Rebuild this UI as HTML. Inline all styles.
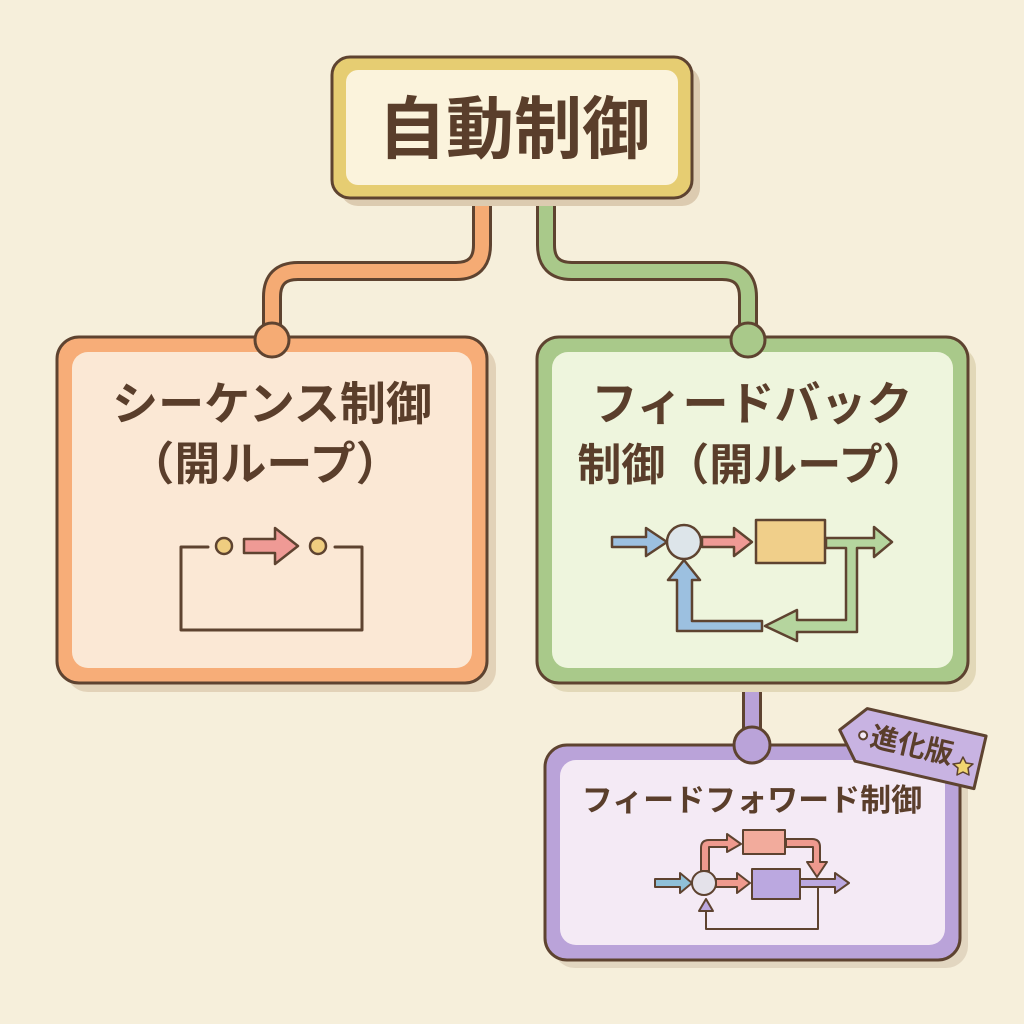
<!DOCTYPE html>
<html><head><meta charset="utf-8"><style>
html,body{margin:0;padding:0;background:#f6efdb;}
svg{display:block;}
text{font-family:"Liberation Sans","Noto Sans CJK JP",sans-serif;font-weight:bold;fill:#5a3e2b;}
</style></head><body>
<svg width="1024" height="1024" viewBox="0 0 1024 1024">
<rect width="1024" height="1024" fill="#f6efdb"/>
<g stroke="#5e4330" stroke-linejoin="round" stroke-linecap="round">
<path d="M482 196 V245 Q482 271 456 271 H298 Q272 271 272 297 V330" fill="none" stroke="#5e4330" stroke-width="20"/>
<path d="M482 196 V245 Q482 271 456 271 H298 Q272 271 272 297 V330" fill="none" stroke="#f5ab74" stroke-width="14"/>
<path d="M546 196 V245 Q546 271 572 271 H722 Q748 271 748 297 V330" fill="none" stroke="#5e4330" stroke-width="20"/>
<path d="M546 196 V245 Q546 271 572 271 H722 Q748 271 748 297 V330" fill="none" stroke="#a9c98a" stroke-width="14"/>
<path d="M752 680 V735" fill="none" stroke="#5e4330" stroke-width="20"/>
<path d="M752 680 V735" fill="none" stroke="#b9a2d8" stroke-width="14"/>

<rect x="340" y="66" width="360" height="140" rx="18" fill="#dccbb0" stroke="none"/>
<rect x="332" y="57" width="360" height="141" rx="18" fill="#e6cd72" stroke-width="3"/>
<rect x="346" y="70" width="332" height="115" rx="12" fill="#fbf3dc" stroke="none"/>

<rect x="66" y="346" width="430" height="346" rx="22" fill="#e2d2b8" stroke="none"/>
<rect x="57" y="337" width="430" height="346" rx="22" fill="#f7ad78" stroke-width="3"/>
<rect x="72" y="352" width="400" height="316" rx="16" fill="#fbe8d5" stroke="none"/>
<circle cx="272" cy="340" r="17" fill="#f5ab74" stroke-width="3"/>

<rect x="546" y="346" width="430" height="346" rx="22" fill="#e2d8b8" stroke="none"/>
<rect x="537" y="337" width="431" height="346" rx="22" fill="#a9c98a" stroke-width="3"/>
<rect x="552" y="352" width="401" height="316" rx="16" fill="#eef5dd" stroke="none"/>
<circle cx="748" cy="340" r="17" fill="#a9c98a" stroke-width="3"/>

<rect x="553" y="753" width="415" height="215" rx="22" fill="#e2d6c0" stroke="none"/>
<rect x="545" y="745" width="415" height="215" rx="22" fill="#baa3d9" stroke-width="3"/>
<rect x="560" y="760" width="385" height="185" rx="16" fill="#f4eaf5" stroke="none"/>
<circle cx="752" cy="745" r="18" fill="#baa3d9" stroke-width="3"/>

<g transform="rotate(13 905 745)">
<path d="M838 745 L860 718 H982 V772 H860 Z" fill="#c8b3e2" stroke-width="3"/>
<circle cx="862" cy="745" r="4" fill="#f4eaf5" stroke-width="2"/>
</g>
<path d="M963 757 l3 6 7 1 -5 4 1 7 -6 -3 -6 3 1 -7 -5 -4 7 -1z" fill="#f2d670" stroke-width="1.5"/>

<path d="M208 547 H181 V630 H362 V547 H335" fill="none" stroke-width="3"/>
<circle cx="224" cy="546" r="8" fill="#efcd80" stroke-width="2.5"/>
<circle cx="318" cy="546" r="8" fill="#efcd80" stroke-width="2.5"/>
<path d="M244 539 H275 V528 L298 546 L275 564 V553 H244 Z" fill="#ef9a95" stroke-width="2.5"/>

<path d="M612 537 H646 V528 L667 542 L646 556 V547 H612 Z" fill="#9cc0e0" stroke-width="2.5"/>
<circle cx="684" cy="542" r="17" fill="#dde5ea" stroke-width="2.5"/>
<path d="M702 537 H734 V528 L752 542 L734 556 V547 H702 Z" fill="#ef9a95" stroke-width="2.5"/>
<rect x="756" y="520" width="69" height="43" fill="#f0cf8a" stroke-width="2.5"/>
<path d="M826 538 H874 V527 L892 542 L874 557 V548 H857 V632 H797 V641 L765 626 L797 610 V620 H846 V548 H826 Z" fill="#b5d59e" stroke-width="2.5"/>
<path d="M762 621 H692 V580 H700 L684 560 L668 580 H677 V631 H762 Z" fill="#9cc0e0" stroke-width="2.5"/>

<path d="M655 879 H680 V873 L692 883 L680 893 V887 H655 Z" fill="#8fc0d8" stroke-width="2"/>
<circle cx="704" cy="883" r="12" fill="#e4e2ea" stroke-width="2"/>
<path d="M716 879 H737 V873 L750 883 L737 893 V887 H716 Z" fill="#ef9a8e" stroke-width="2"/>
<rect x="752" y="869" width="48" height="30" fill="#bba8e0" stroke-width="2"/>
<path d="M800 879 H835 V873 L849 883 L835 893 V887 H800 Z" fill="#bba8e0" stroke-width="2"/>
<path d="M701 871 V848 Q701 840 709 840 H727 V834 L741 844 L727 852 V847 H709 V871 Z" fill="#ef9a8e" stroke-width="2"/>
<rect x="743" y="830" width="42" height="24" fill="#f2ab9c" stroke-width="2"/>
<path d="M786 839 H812 Q820 839 820 847 V862 H827 L817 877 L807 862 H813 V847 H786 Z" fill="#ef9a8e" stroke-width="2"/>
<path d="M818 887 V929 H706 V912" fill="none" stroke-width="2"/>
<path d="M699 911 L706 899 L713 911 Z" fill="#bba8e0" stroke-width="2"/>
</g>

<text x="514" y="153" font-size="68" text-anchor="middle">自動制御</text>
<text x="272" y="420" font-size="46" text-anchor="middle">シーケンス制御</text>
<text x="265" y="480" font-size="46" text-anchor="middle">（開ループ）</text>
<text x="752" y="420" font-size="46" text-anchor="middle">フィードバック</text>
<text x="752" y="480" font-size="44" text-anchor="middle">制御（開ループ）</text>
<text x="752" y="811" font-size="31" text-anchor="middle">フィードフォワード制御</text>
<text x="912" y="755" font-size="28" text-anchor="middle" transform="rotate(13 912 745)">進化版</text>
</svg>
</body></html>
